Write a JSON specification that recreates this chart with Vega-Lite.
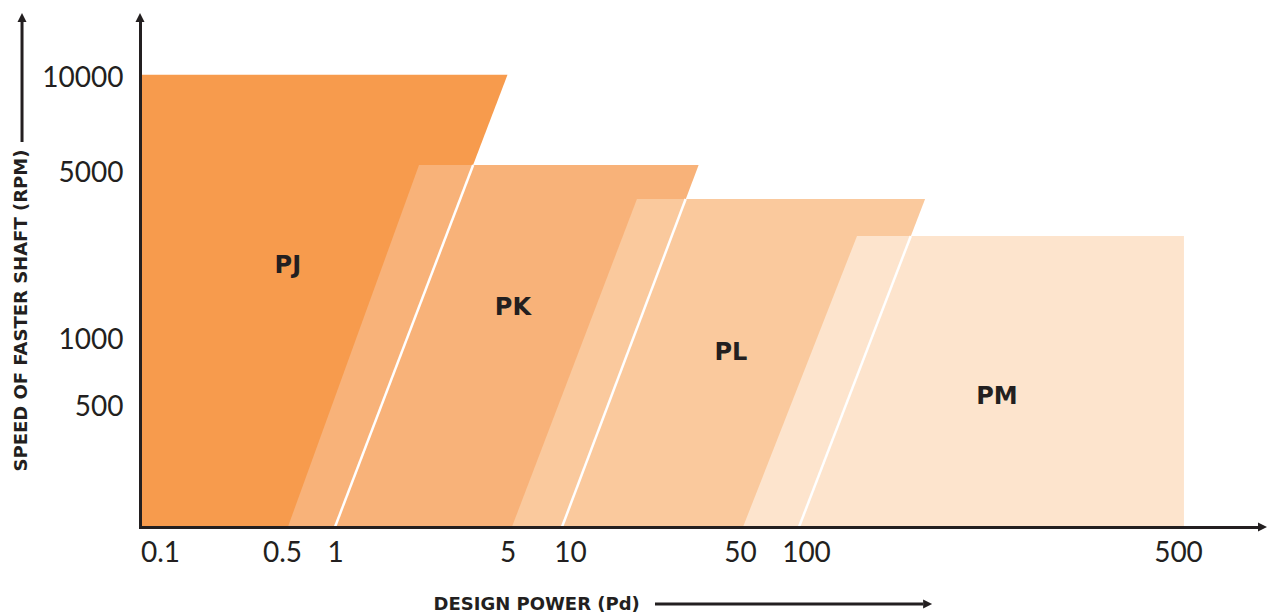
{
  "$schema": "https://vega.github.io/schema/vega-lite/v6.json",
  "width": 1118,
  "height": 505,
  "autosize": "none",
  "padding": {"left": 140, "top": 22, "right": 10, "bottom": 89},
  "background": "white",
  "config": {"view": {"stroke": null}},
  "datasets": {
    "zones": [
      {"zone": "PJ", "x": 0.08, "y": 10400, "y2": 100},
      {"zone": "PJ", "x": 1, "y": 10400, "y2": 100},
      {"zone": "PJ", "x": 5, "y": 10400, "y2": 10400},
      {"zone": "PK", "x": 0.54, "y": 100, "y2": 100},
      {"zone": "PK", "x": 2.19, "y": 5300, "y2": 100},
      {"zone": "PK", "x": 9.15, "y": 5300, "y2": 100},
      {"zone": "PK", "x": 33.8, "y": 5300, "y2": 5300},
      {"zone": "PL", "x": 5.25, "y": 100, "y2": 100},
      {"zone": "PL", "x": 18.85, "y": 3890, "y2": 100},
      {"zone": "PL", "x": 92.9, "y": 3890, "y2": 100},
      {"zone": "PL", "x": 167.4, "y": 3890, "y2": 3890},
      {"zone": "PM", "x": 51.6, "y": 100, "y2": 100},
      {"zone": "PM", "x": 124.7, "y": 2726, "y2": 100},
      {"zone": "PM", "x": 526.5, "y": 2726, "y2": 100}
    ],
    "edges": [
      {"x": 3.63, "y": 5300, "x2": 1, "y2": 100},
      {"x": 29.9, "y": 3890, "x2": 9.15, "y2": 100},
      {"x": 157.4, "y": 2726, "x2": 92.9, "y2": 100}
    ],
    "labels": [
      {"zone": "PJ", "x": 0.54, "y": 2040},
      {"zone": "PK", "x": 5.31, "y": 1355},
      {"zone": "PL", "x": 45.9, "y": 877},
      {"zone": "PM", "x": 228.4, "y": 554}
    ],
    "arrows": [
      {"x": 22.36, "y": 35.6, "x2": 166, "y2": 35.6},
      {"x": 0.02145, "y": 6269, "x2": 0.02145, "y2": 20000}
    ],
    "heads": [
      {"dir": "up", "x": 0.08, "y": 20000},
      {"dir": "right", "x": 1000, "y": 100},
      {"dir": "up", "x": 0.02145, "y": 20000},
      {"dir": "right", "x": 166, "y": 35.6}
    ]
  },
  "encoding": {
    "x": {
      "field": "x",
      "type": "quantitative",
      "scale": {
        "type": "log",
        "domain": [0.08, 0.1, 0.5, 1, 5, 10, 50, 100, 500, 1000],
        "range": [0, 20, 142, 195, 367.5, 430, 600, 666, 1038, 1118],
        "nice": false
      },
      "axis": {
        "values": [0.1, 0.5, 1, 5, 10, 50, 100, 500],
        "format": "~g",
        "grid": false,
        "ticks": false,
        "tickSize": 0,
        "labelPadding": 26,
        "labelBaseline": "middle",
        "labelFont": "Lato",
        "labelFontSize": 28,
        "labelFontWeight": "normal",
        "labelColor": "#231F20",
        "labelOverlap": false,
        "labelFlush": false,
        "domainColor": "#231F20",
        "domainWidth": 3,
        "domainCap": "square",
        "zindex": 1,
        "title": "DESIGN POWER (Pd)",
        "titleFont": "DejaVu Sans",
        "titleFontWeight": "bold",
        "titleFontSize": 18,
        "titleColor": "#231F20",
        "titleX": 293,
        "titleY": 77,
        "titleAlign": "left",
        "titleBaseline": "middle"
      }
    },
    "y": {
      "field": "y",
      "type": "quantitative",
      "scale": {
        "type": "log",
        "domain": [100, 500, 1000, 5000, 10000, 20000],
        "range": [505, 385, 318, 151, 56, 0],
        "nice": false
      },
      "axis": {
        "values": [500, 1000, 5000, 10000],
        "format": "~g",
        "grid": false,
        "ticks": false,
        "tickSize": 0,
        "labelPadding": 17,
        "labelAlign": "right",
        "labelBaseline": "middle",
        "labelFont": "Lato",
        "labelFontSize": 28,
        "labelFontWeight": "normal",
        "labelColor": "#231F20",
        "labelOverlap": false,
        "labelFlush": false,
        "domainColor": "#231F20",
        "domainWidth": 3,
        "domainCap": "square",
        "zindex": 1,
        "title": "SPEED OF FASTER SHAFT (RPM)",
        "titleFont": "DejaVu Sans",
        "titleFontWeight": "bold",
        "titleFontSize": 18,
        "titleColor": "#231F20",
        "titleAngle": 270,
        "titleX": -119,
        "titleY": 449,
        "titleAlign": "left",
        "titleBaseline": "middle"
      }
    }
  },
  "layer": [
    {
      "data": {"name": "zones"},
      "mark": {"type": "area", "interpolate": "linear", "opacity": 1},
      "encoding": {
        "y2": {"field": "y2"},
        "color": {
          "field": "zone",
          "type": "nominal",
          "scale": {"domain": ["PJ", "PK", "PL", "PM"], "range": ["#F79B4D", "#F8B279", "#FAC99D", "#FDE4CD"]},
          "legend": null
        }
      }
    },
    {
      "data": {"name": "edges"},
      "mark": {"type": "rule", "color": "white", "strokeWidth": 2.5},
      "encoding": {
        "x2": {"field": "x2"},
        "y2": {"field": "y2"}
      }
    },
    {
      "data": {"name": "labels"},
      "mark": {"type": "text", "font": "DejaVu Sans", "fontWeight": "bold", "fontSize": 24, "color": "#231F20", "align": "center", "baseline": "middle"},
      "encoding": {
        "text": {"field": "zone", "type": "nominal"}
      }
    },
    {
      "data": {"name": "arrows"},
      "mark": {"type": "rule", "color": "#231F20", "strokeWidth": 3},
      "encoding": {
        "x2": {"field": "x2"},
        "y2": {"field": "y2"}
      }
    },
    {
      "data": {"name": "heads"},
      "mark": {"type": "point", "filled": true, "size": 81, "opacity": 1, "strokeWidth": 0, "color": "#231F20"},
      "encoding": {
        "shape": {
          "field": "dir",
          "type": "nominal",
          "scale": {"domain": ["up", "right"], "range": ["M-1,0L1,0L0,-2Z", "M0,-1L0,1L2,0Z"]},
          "legend": null
        }
      }
    }
  ]
}
